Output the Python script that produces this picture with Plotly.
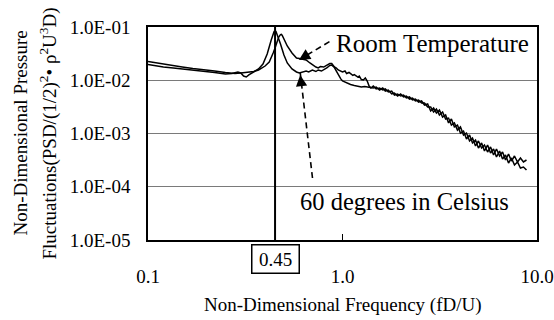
import math
import plotly.graph_objects as go

# ---------------- data ----------------
freq_room_low = [0.10, 0.11, 0.12, 0.135, 0.15, 0.17, 0.20, 0.22, 0.25, 0.28,
                 0.30, 0.32, 0.35, 0.37, 0.38, 0.40, 0.42, 0.43, 0.44, 0.45,
                 0.46, 0.47, 0.48, 0.485, 0.49, 0.50, 0.52, 0.55, 0.58, 0.60,
                 0.62, 0.65, 0.68, 0.70, 0.73, 0.75, 0.77, 0.80, 0.83, 0.86,
                 0.88, 0.90, 0.93, 0.95, 0.98, 1.00, 1.05, 1.10, 1.15, 1.20,
                 1.25, 1.30, 1.35, 1.40]
psd_room_low = [0.0225, 0.0211, 0.0202, 0.0189, 0.0177, 0.0166, 0.0152, 0.0149, 0.0140, 0.0134,
                0.0137, 0.0140, 0.0146, 0.0156, 0.0166, 0.0185, 0.0220, 0.0262, 0.0325, 0.0403,
                0.0523, 0.0649, 0.0720, 0.0730, 0.0693, 0.0595, 0.0440, 0.0325, 0.0262, 0.0256,
                0.0251, 0.0240, 0.0211, 0.0193, 0.0177, 0.0170, 0.0181, 0.0177, 0.0193, 0.0206,
                0.0206, 0.0185, 0.0149, 0.0126, 0.0106, 0.00968, 0.00888, 0.0083, 0.00797, 0.00780,
                0.00747, 0.00763, 0.00747, 0.0073]

freq_hot_low = [0.10, 0.11, 0.12, 0.135, 0.15, 0.17, 0.20, 0.22, 0.25, 0.27,
                0.29, 0.30, 0.31, 0.32, 0.33, 0.35, 0.37, 0.39, 0.41, 0.43,
                0.44, 0.445, 0.455, 0.46, 0.48, 0.50, 0.52, 0.55, 0.58, 0.60,
                0.62, 0.65, 0.67, 0.70, 0.73, 0.75, 0.78, 0.80, 0.83, 0.86,
                0.88, 0.90, 0.93, 0.95, 0.98, 1.00, 1.03, 1.05, 1.08, 1.10,
                1.13, 1.15, 1.20, 1.22, 1.25, 1.28, 1.31, 1.34, 1.37, 1.40]
psd_hot_low = [0.0197, 0.0185, 0.0177, 0.0170, 0.0163, 0.0156, 0.0149, 0.0140, 0.0131, 0.0134,
               0.0143, 0.0137, 0.0120, 0.0115, 0.0126, 0.0143, 0.0163, 0.0202, 0.0311, 0.0570,
               0.0771, 0.0823, 0.0823, 0.0739, 0.0480, 0.0298, 0.0211, 0.0163, 0.0143, 0.0137,
               0.0140, 0.0149, 0.0143, 0.0156, 0.0146, 0.0156, 0.0149, 0.0156, 0.0170, 0.0189,
               0.0193, 0.0181, 0.0170, 0.0156, 0.0149, 0.0143, 0.0149, 0.0134, 0.0140, 0.0131,
               0.0123, 0.0128, 0.0115, 0.0120, 0.0103, 0.0101, 0.0110, 0.00968, 0.00780, 0.00715]

freq_tail = [1.44, 1.49, 1.55, 1.61, 1.66, 1.72, 1.79, 1.85, 1.92, 1.99,
             2.06, 2.13, 2.21, 2.29, 2.37, 2.46, 2.55, 2.64, 2.74, 2.84,
             2.94, 3.04, 3.15, 3.27, 3.39, 3.51, 3.63, 3.76, 3.90, 4.04,
             4.19, 4.34, 4.50, 4.66, 4.83, 5.00, 5.19, 5.37, 5.57, 5.77,
             5.98, 6.19, 6.42, 6.65, 6.89, 7.14, 7.39, 7.66, 7.94, 8.22,
             8.52, 8.83]
psd_room_tail = [0.00715, 0.00747, 0.00656, 0.00715, 0.00628, 0.00656, 0.00552, 0.00576, 0.00506, 0.00552,
                 0.00485, 0.00506, 0.00444, 0.00464, 0.00408, 0.00426, 0.00374, 0.00374, 0.00315, 0.00315,
                 0.00253, 0.00288, 0.00223, 0.00253, 0.00187, 0.00195, 0.00144, 0.00158, 0.00116, 0.00133,
                 0.000937, 0.00102, 0.000723, 0.000823, 0.000583, 0.000723, 0.000534, 0.000608, 0.000449, 0.000558,
                 0.000395, 0.000512, 0.000378, 0.000449, 0.000318, 0.000412, 0.000304, 0.000378, 0.000292, 0.000347,
                 0.000292, 0.000318]
psd_hot_tail = [0.00780, 0.00685, 0.00715, 0.00656, 0.00685, 0.00602, 0.00628, 0.00528, 0.00552, 0.00506,
                0.00528, 0.00464, 0.00485, 0.00426, 0.00444, 0.00390, 0.00408, 0.00343, 0.00358, 0.00265,
                0.00301, 0.00243, 0.00276, 0.00204, 0.00223, 0.00158, 0.00187, 0.00133, 0.00144, 0.00102,
                0.00111, 0.000788, 0.000937, 0.000663, 0.000755, 0.000534, 0.000663, 0.000469, 0.000608, 0.000430,
                0.000512, 0.000362, 0.000469, 0.000332, 0.000395, 0.000279, 0.000347, 0.000256, 0.000292, 0.000225,
                0.000235, 0.000206]

freq_room = freq_room_low + freq_tail
psd_room = psd_room_low + psd_room_tail
freq_hot = freq_hot_low + freq_tail
psd_hot = psd_hot_low + psd_hot_tail

x_tick_vals = [0.1, 1.0, 10.0]
x_tick_text = ["0.1", "1.0", "10.0"]
y_tick_vals = [1e-1, 1e-2, 1e-3, 1e-4, 1e-5]
y_tick_text = ["1.0E-01", "1.0E-02", "1.0E-03", "1.0E-04", "1.0E-05"]
marked_freq = 0.45
label_room = "Room Temperature"
label_hot = "60 degrees in Celsius"

# ---------------- figure ----------------
FONT = "Liberation Serif"
fig = go.Figure()
fig.add_trace(go.Scatter(x=freq_room, y=psd_room, mode="lines", name=label_room,
                         line=dict(color="black", width=1.5)))
fig.add_trace(go.Scatter(x=freq_hot, y=psd_hot, mode="lines", name=label_hot,
                         line=dict(color="black", width=1.5)))

fig.update_layout(
    width=554, height=320,
    margin=dict(l=148, r=17, t=27, b=80, autoexpand=False),
    paper_bgcolor="white", plot_bgcolor="white",
    showlegend=False,
    font=dict(family=FONT, size=19, color="black"),
)
fig.update_xaxes(type="log", range=[-1, 1], tickvals=x_tick_vals, ticktext=x_tick_text,
                 ticks="inside", ticklen=6, tickwidth=1, tickcolor="black",
                 showgrid=False, zeroline=False, showline=True, mirror=True,
                 linecolor="black", linewidth=1.5, ticklabelstandoff=18,
                 automargin=False,
                 tickfont=dict(family=FONT, size=19, color="black"))
fig.update_yaxes(type="log", range=[-5, -1], tickvals=y_tick_vals, ticktext=y_tick_text,
                 ticks="", showgrid=True, gridcolor="#7a7a7a", gridwidth=1,
                 zeroline=False, showline=True, mirror=True,
                 linecolor="black", linewidth=1.5, ticklabelstandoff=12,
                 automargin=False,
                 tickfont=dict(family=FONT, size=19, color="black"))

# vertical marker line at the peak frequency
fig.add_shape(type="line", xref="x", yref="paper", x0=marked_freq, x1=marked_freq,
              y0=0, y1=1, line=dict(color="black", width=2))

# dashed leader lines
fig.add_shape(type="line", xref="x", yref="y", x0=0.857, y0=0.0530, x1=0.607, y1=0.0250,
              line=dict(color="black", width=1.6, dash="6px,4px"))
fig.add_shape(type="line", xref="x", yref="y", x0=0.701, y0=1.46e-4, x1=0.606, y1=0.0140,
              line=dict(color="black", width=1.6, dash="6px,4px"))

annotations = [
    # arrow heads
    dict(x=math.log10(0.597), y=math.log10(0.0240), xref="x", yref="y", text="",
         showarrow=True, ax=9, ay=-5.5, arrowhead=2, arrowsize=1.5, arrowwidth=1.5,
         arrowcolor="black"),
    dict(x=math.log10(0.606), y=math.log10(0.01255), xref="x", yref="y", text="",
         showarrow=True, ax=1.3, ay=10.5, arrowhead=2, arrowsize=1.5, arrowwidth=1.5,
         arrowcolor="black"),
    # labels
    dict(x=math.log10(0.905), y=math.log10(0.0486), xref="x", yref="y", text=label_room,
         showarrow=False, xanchor="left", yanchor="middle",
         font=dict(family=FONT, size=25, color="black")),
    dict(x=math.log10(0.590), y=math.log10(5.24e-5), xref="x", yref="y", text=label_hot,
         showarrow=False, xanchor="left", yanchor="middle",
         font=dict(family=FONT, size=24.5, color="black")),
    # boxed 0.45
    dict(x=math.log10(marked_freq), y=-0.0915, xref="x", yref="paper", text="0.45",
         showarrow=False, xanchor="center", yanchor="middle",
         bordercolor="black", borderwidth=1.5, borderpad=1, width=44, height=25,
         font=dict(family=FONT, size=19, color="black")),
    # axis titles
    dict(x=0.5, y=-0.305, xref="paper", yref="paper",
         text="Non-Dimensional Frequency (fD/U)", showarrow=False,
         xanchor="center", yanchor="middle", font=dict(family=FONT, size=19, color="black")),
    dict(x=-0.329, y=0.5, xref="paper", yref="paper", text="Non-Dimensional Pressure",
         showarrow=False, textangle=-90, xanchor="center", yanchor="middle",
         font=dict(family=FONT, size=19, color="black")),
    dict(x=-0.2545, y=0.5, xref="paper", yref="paper",
         text="Fluctuations(PSD/(1/2)<sup>2</sup>• ρ<sup>2</sup>U<sup>3</sup>D)",
         showarrow=False, textangle=-90, xanchor="center", yanchor="middle",
         font=dict(family=FONT, size=19, color="black")),
]
fig.update_layout(annotations=annotations)

fig.write_html("out.html")
